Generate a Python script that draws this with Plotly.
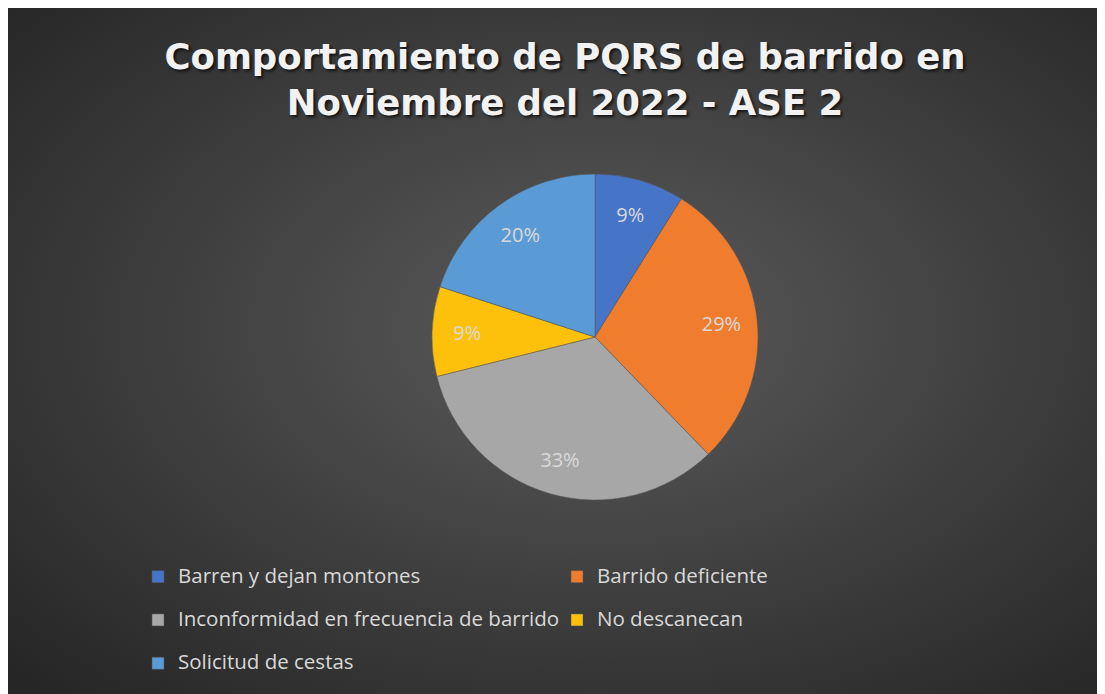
"""
plot.py

Pie chart of PQRS complaints about street sweeping, November 2022 (ASE 2).
"""

import base64

import plotly.graph_objects as go

# Data
categories = [
    "Barren y dejan montones",
    "Barrido deficiente",
    "Inconformidad en frecuencia de barrido",
    "No descanecan",
    "Solicitud de cestas",
]
counts = [4, 13, 15, 4, 9]
slice_colors = ["#4674c6", "#f07d2e", "#a7a7a7", "#fdc10c", "#5a9bd6"]

title_text = "Comportamiento de PQRS de barrido en<br>Noviembre del 2022 - ASE 2"

W, H = 1105, 694

# Radial dark background, as an inline SVG image
svg = (
    "<svg xmlns='http://www.w3.org/2000/svg' width='1105' height='694' "
    "preserveAspectRatio='none'>"
    "<defs><radialGradient id='g' cx='0.53' cy='0.46' r='0.72'>"
    "<stop offset='0' stop-color='#5b5b5b'/>"
    "<stop offset='1' stop-color='#262626'/>"
    "</radialGradient></defs>"
    "<rect width='1105' height='694' fill='url(#g)'/></svg>"
)
bg_src = "data:image/svg+xml;base64," + base64.b64encode(svg.encode()).decode()

# Legend text drawn at 20.5px inside a taller line, to space the rows out
legend_labels = [
    f"<span style='font-size:20.5px;baseline-shift:6px'>{c}</span>"
    for c in categories
]

pie_domain = dict(
    x=[(587 - 163) / W, (587 + 163) / W],
    y=[1 - 492 / H, 1 - 166 / H],
)

figure = go.Figure()

# The filled pie
figure.add_trace(
    go.Pie(
        labels=legend_labels,
        values=counts,
        sort=False,
        direction="clockwise",
        rotation=0,
        marker=dict(colors=slice_colors, line=dict(color="#555555", width=0.5)),
        textinfo="none",
        hovertext=categories,
        hoverinfo="text+value+percent",
        domain=pie_domain,
    )
)

# Same pie as a transparent ring, only to place the percentages further out
figure.add_trace(
    go.Pie(
        labels=legend_labels,
        values=counts,
        sort=False,
        direction="clockwise",
        rotation=0,
        hole=0.56,
        marker=dict(colors=["rgba(0,0,0,0)"] * len(counts)),
        texttemplate="%{percent:.0%}",
        textposition="inside",
        insidetextorientation="horizontal",
        textfont=dict(family="Open Sans", size=20, color="#d9d9d9"),
        hoverinfo="skip",
        showlegend=False,
        domain=pie_domain,
    )
)

figure.update_layout(
    width=W,
    height=H,
    margin=dict(l=0, r=0, t=0, b=0),
    paper_bgcolor="#3a3a3a",
    title=dict(
        text=title_text,
        x=557 / W,
        xanchor="center",
        y=1 - 61 / H,
        yanchor="top",
        font=dict(
            family="DejaVu Sans",
            size=35.5,
            weight="bold",
            color="#f2f2f2",
            shadow="2px 2px 3px rgba(0,0,0,0.7)",
        ),
    ),
    legend=dict(
        orientation="h",
        x=130 / W,
        xanchor="left",
        y=1 - 542 / H,
        yanchor="top",
        entrywidth=374,
        entrywidthmode="pixels",
        font=dict(family="Open Sans", size=31, color="#d9d9d9"),
        bgcolor="rgba(0,0,0,0)",
    ),
    images=[
        dict(
            source=bg_src,
            xref="paper",
            yref="paper",
            x=0,
            y=1,
            sizex=1,
            sizey=1,
            sizing="stretch",
            xanchor="left",
            yanchor="top",
            layer="below",
        )
    ],
)

figure.write_html("out.html")
